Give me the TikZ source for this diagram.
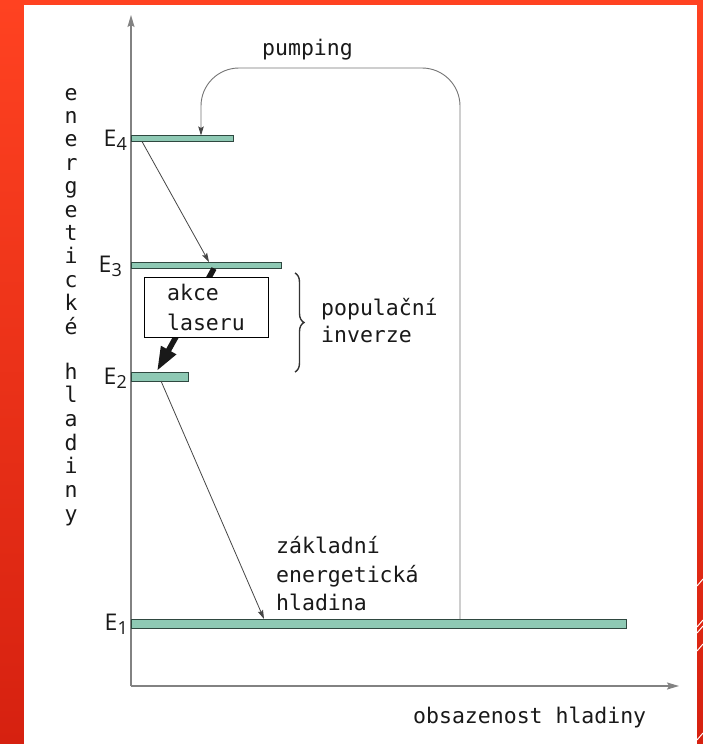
\documentclass[tikz,border=0pt]{standalone}
\usepackage{fontspec}
\newfontfamily\monof{DejaVu Sans Mono}
\newfontfamily\labf{Open Sans}
\usetikzlibrary{arrows.meta,decorations.pathreplacing}
\definecolor{bgtop}{RGB}{255,66,33}
\definecolor{bgbot}{RGB}{214,33,16}
\definecolor{barfill}{RGB}{142,201,180}
\definecolor{barline}{RGB}{47,72,64}
\definecolor{axisgray}{RGB}{130,130,130}
\definecolor{arrgray}{RGB}{70,70,70}
\definecolor{textcol}{RGB}{25,25,25}
\begin{document}
\begin{tikzpicture}[x=1pt,y=-1pt,
  levelbar/.style={draw=barline, fill=barfill, line width=0.9pt, anchor=north west, inner sep=0pt, outer sep=0pt},
  monotext/.style={font=\monof\fontsize{21.5}{30}\selectfont, inner sep=0pt, anchor=base west, text=textcol},
  vletter/.style={font=\monof\fontsize{21.5}{30}\selectfont, inner sep=0pt, anchor=base, text=textcol},
  elabel/.style={font=\labf\fontsize{23}{23}\selectfont, inner sep=0pt, anchor=base east, text=textcol},
  axisline/.style={draw=axisgray, line width=1.4pt, -{Stealth[length=12pt,width=7pt,inset=2pt]}},
  thinarrow/.style={draw=arrgray, line width=0.8pt, -{Stealth[length=9pt,width=5.5pt,inset=1.5pt]}},
  pumparrow/.style={draw=axisgray!90!black, line width=0.9pt, rounded corners=38pt, -{Stealth[length=9pt,width=5.5pt,inset=1.5pt,color=arrgray]}},
  thickarrow/.style={draw=black!90, line width=5.5pt, -{Triangle[length=24pt,width=16pt]}},
  laserbox/.style={draw=black, fill=white, line width=0.9pt, minimum width=124pt, minimum height=60pt, align=left, inner sep=0pt, font=\monof\fontsize{21.5}{30}\selectfont, text=textcol},
  bracestyle/.style={draw=black!80, line width=1.4pt, decorate, decoration={brace, amplitude=9pt, aspect=0.5}}
]
\useasboundingbox (0,0) rectangle (703,744);
% background
\shade[top color=bgtop, bottom color=bgbot] (0,0) rectangle (703,744);
\fill[white] (24,5) rectangle (697,744);
\foreach \yy in {583,624,630,648,737}{
  \draw[white, line width=1pt] (697,\yy+3) -- (703,\yy-4);
}
% axes
\coordinate (origin) at (131,686);
\coordinate (ytip) at (131,15);
\coordinate (xtip) at (679,686);
\draw[axisline] (origin) -- (ytip);
\draw[axisline] (origin) -- (xtip);

% energy levels
\node[levelbar, minimum width=102pt, minimum height=6pt] (L4) at (131,135.5) {};
\node[levelbar, minimum width=150pt, minimum height=6.5pt] (L3) at (131,262) {};
\node[levelbar, minimum width=57pt, minimum height=9pt] (L2) at (131,372) {};
\node[levelbar, minimum width=495pt, minimum height=9pt] (L1) at (131,619) {};

% level labels
\node[elabel] (E4) at (127,146) {E\raisebox{-4pt}{\fontsize{18}{18}\selectfont 4}};
\node[elabel] (E3) at (122,272) {E\raisebox{-4pt}{\fontsize{18}{18}\selectfont 3}};
\node[elabel] (E2) at (127,384) {E\raisebox{-4pt}{\fontsize{18}{18}\selectfont 2}};
\node[elabel] (E1) at (128,630) {E\raisebox{-4pt}{\fontsize{18}{18}\selectfont 1}};

% transitions
\coordinate (a4s) at (142,141.5);
\coordinate (a3e) at (209,262);
\coordinate (a3s) at (214,268.5);
\coordinate (a2e) at (157,371);
\coordinate (a2s) at (161,381);
\coordinate (a1e) at (264,619);
\coordinate (p1s) at (460,619);
\coordinate (p4e) at (201,135.5);
\draw[thinarrow] (a4s) -- (a3e);
\draw[thickarrow] (a3s) -- (a2e);
\draw[thinarrow] (a2s) -- (a1e);
\draw[pumparrow] (p1s) -- (460,68) -- (201,68) -- (p4e);

% laser box
\node[laserbox] (lb) at (206,307) {akce\\laseru};

% brace
\coordinate (br1) at (295,273);
\coordinate (br2) at (295,372);
\draw[bracestyle] (br1) -- (br2);

% texts
\node[monotext] (pump) at (262,55) {pumping};
\node[monotext] (pop1) at (321,315) {populační};
\node[monotext] (pop2) at (321,342) {inverze};
\node[monotext] (zak1) at (276,553) {základní};
\node[monotext] (zak2) at (276,582) {energetická};
\node[monotext] (zak3) at (276,610) {hladina};
\node[monotext] (xlab) at (413,723) {obsazenost hladiny};

% vertical axis label
\foreach \ch [count=\i from 0] in {e,n,e,r,g,e,t,i,c,k,é}{
  \node[vletter] (va\i) at (71,{100+23.4*\i}) {\ch};
}
\foreach \ch [count=\i from 0] in {h,l,a,d,i,n,y}{
  \node[vletter] (vb\i) at (71,{379+23.7*\i}) {\ch};
}
\end{tikzpicture}
\end{document}
